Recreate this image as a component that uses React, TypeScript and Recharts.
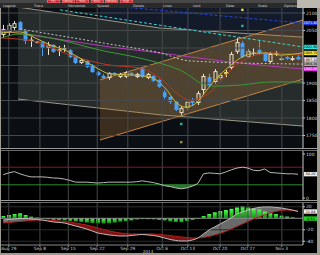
import React from "react";
import {
  ComposedChart,
  Line,
  Area,
  Bar,
  Scatter,
  XAxis,
  YAxis,
  ReferenceLine,
} from "recharts";

// --- Data ---

const OPEN = [2037, 2046, 2057, 2074, 2051, 2023, 2017, 2017, 2000, 2009, 1991, 1999, 1994, 1974, 1957, 1963, 1951, 1931, 1921, 1914, 1929, 1917, 1917, 1929, 1917, 1943, 1914, 1920, 1909, 1874, 1860, 1846, 1814, 1829, 1851, 1843, 1880, 1917, 1903, 1914, 1926, 1943, 1989, 2014, 1974, 1986, 1994, 1986, 1960, 1984, 1969, 1974, 1966, 1974];
const HIGH = [2066, 2071, 2077, 2077, 2054, 2031, 2020, 2020, 2017, 2011, 2006, 2009, 1997, 1977, 1969, 1966, 1954, 1934, 1926, 1931, 1931, 1929, 1934, 1931, 1929, 1946, 1929, 1923, 1911, 1880, 1863, 1849, 1834, 1851, 1857, 1877, 1926, 1926, 1940, 1929, 1937, 1989, 2029, 2020, 1997, 2000, 2023, 1989, 1989, 1991, 1980, 1977, 1977, 1980];
const LOW = [2029, 2034, 2051, 2049, 2011, 2003, 2014, 1977, 1980, 1986, 1977, 1989, 1971, 1954, 1954, 1943, 1929, 1920, 1911, 1909, 1923, 1914, 1914, 1920, 1914, 1914, 1911, 1903, 1886, 1854, 1840, 1820, 1809, 1823, 1834, 1837, 1866, 1889, 1897, 1909, 1917, 1937, 1983, 1971, 1971, 1977, 1980, 1960, 1957, 1977, 1963, 1966, 1963, 1966];
const CLOSE = [2054, 2066, 2071, 2051, 2020, 2024, 2018, 2000, 2009, 1989, 1996, 2000, 1974, 1957, 1966, 1946, 1931, 1923, 1914, 1929, 1924, 1926, 1931, 1923, 1926, 1917, 1926, 1906, 1889, 1860, 1846, 1823, 1829, 1846, 1843, 1871, 1920, 1894, 1934, 1923, 1931, 1983, 2017, 1974, 1991, 1987, 1986, 1963, 1983, 1986, 1970, 1969, 1971, 1967];

const RSI = [53, 57, 60, 55, 51, 48, 48, 48, 47, 45.5, 45, 43, 40, 36, 36, 36, 35, 34, 35, 36, 36, 36, 36, 36, 37, 39, 37, 35, 32, 28, 26, 23, 21, 23, 27, 33, 55, 57, 56, 55, 59, 64, 68, 70, 68, 63, 62, 66, 58, 57, 56, 55, 55, 54];

const MACD = [-3.0, -2.1, -1.2, -0.3, -0.3, -1.2, -2.1, -3.0, -4.7, -6.4, -7.3, -8.2, -10.8, -13.4, -16.0, -18.6, -22.1, -25.6, -27.3, -29.0, -29.9, -30.8, -30.8, -29.9, -29.0, -28.2, -29.0, -29.9, -31.7, -34.3, -36.9, -38.6, -39.5, -39.5, -37.8, -34.3, -27.3, -20.4, -15.1, -9.9, -4.7, 0.5, 7.5, 11.0, 14.4, 17.1, 18.8, 19.7, 19.7, 18.8, 17.9, 16.2, 14.4, 11.8];
const SIGNAL = [-8.2, -7.3, -6.4, -5.6, -4.7, -3.8, -3.0, -3.0, -3.0, -3.8, -4.7, -5.6, -6.4, -8.2, -9.9, -11.7, -14.3, -16.9, -19.5, -22.1, -23.8, -25.6, -26.4, -27.3, -27.3, -27.3, -27.3, -27.3, -28.2, -29.0, -29.9, -31.7, -32.5, -33.4, -34.3, -34.3, -33.4, -31.7, -29.0, -26.4, -23.0, -18.6, -14.3, -9.9, -5.6, -1.2, 2.3, 5.7, 9.2, 11.8, 13.6, 14.4, 13.6, 12.7];
const HIST = [4, 5.7, 7.5, 8.7, 5.7, 2.8, 1.2, 0.3, -1.5, -3, -3.5, -4, -4.7, -5.5, -6.4, -7.6, -8.2, -8.7, -9, -8.5, -7.6, -6, -5.2, -4, -2.3, -1.5, -1.8, -2.2, -3, -4, -5.5, -6.5, -7, -5, -3, -1, 4, 7.5, 10.4, 12.7, 14.4, 16.5, 19, 21.4, 19, 17, 15.5, 12, 9, 7.5, 4.5, 3, 1.5, -0.5];

// overlay lines: [bar index, price]
const YELLOW_MA: [number, number][] = [[-0.4, 2043], [3, 2046], [5.7, 2029], [8.4, 2009], [11.1, 1994], [13.8, 1971], [16.5, 1946], [19.2, 1926], [22.8, 1923], [26.4, 1917], [29.1, 1886], [31.2, 1843], [32.7, 1831], [34.5, 1840], [36.3, 1874], [38.1, 1909], [40.8, 1949], [42.6, 1971], [44.4, 1983], [47.1, 1986], [49.8, 1980], [53.9, 1986]];
const RED_MA: [number, number][] = [[-0.4, 2029], [6.1, 2017], [12, 1980], [19.2, 1951], [24.6, 1943], [28.2, 1914], [31.2, 1871], [33.6, 1851], [35.4, 1857], [37.2, 1874], [39.3, 1909], [41.7, 1949], [44.4, 1974], [48, 1986], [53.9, 1980]];
const GREEN_MA: [number, number][] = [[-0.4, 2029], [3, 2040], [10.2, 2023], [17.4, 1994], [24.6, 1971], [31.8, 1937], [37.2, 1891], [42.6, 1894], [48, 1903], [53.9, 1903]];
const MAGENTA_MA: [number, number][] = [[-0.4, 2049], [8.4, 2029], [19.2, 2003], [28.2, 1986], [40.8, 1960], [53.9, 1940]];
const WHITE_DASH: [number, number][] = [[3, 2054], [19.2, 2011], [28.2, 1986], [33.6, 1963], [53.9, 1954]];
const CYAN_DASH: [number, number][] = [[10.2, 2109], [37.2, 2043], [53.9, 2003]];
const BLUE_DASH: [number, number][] = [[17.4, 2123], [53.9, 2071]];

// channels: [bar index, low, high]
const GRAY_BAND: [number, number, number][] = [[2.66, 1854, 2117], [28.2, 1809, 2057], [53.9, 1777, 2031]];
const ORANGE_BAND: [number, number, number][] = [[17.4, 1737, 1909], [53.9, 1911, 2080]];
const UPPER_ZONE: [number, number, number][] = [[17.4, 2082, 2114.3], [28.2, 2057, 2114.3], [53.9, 2031, 2114.3]];

const TEAL_MARKS: [number, number][] = [[32, 1783], [43, 2063]];
const YELLOW_MARKS: [number, number][] = [[40, 1928], [43, 2109]];
const OLIVE_MARKS: [number, number][] = [[32, 1731]];

const PRICE_GRID = [1750, 1800, 1850, 1900, 1950, 2000, 2050, 2100];
const PRICE_LABELS = [1750, 1800, 1850, 1900, 2050, 2100]; // 1950 / 2000 sit under the value boxes
const PRICE_LAST = [2071.4, 2002.9, 1985.7, 1967.1, 1954.3, 1940.0];
const RSI_LAST = 54.2;
const MACD_LAST = [11.84, -0.52];

const DATE_TICKS = [1, 6.6, 11.7, 16.9, 22.4, 28.6, 33.2, 39, 44, 50.1];
const DATE_LABELS = ["Aug 29", "Sep 8", "Sep 15", "Sep 22", "Sep 29", "Oct 6", "Oct 13", "Oct 20", "Oct 27", "Nov 3"];

// --- Styles ---
const FONT = "'DejaVu Sans', sans-serif";
const X_DOMAIN: [number, number] = [-0.4, 53.9];
const GRID = "#45494b";
const PRICE_BOX = [
  { fill: "#2236d8", text: "#ffffff" },
  { fill: "#34e0e0", text: "#000000" },
  { fill: "#e8e23a", text: "#000000" },
  { fill: "#ececec", text: "#000000" },
  { fill: "#a8a8a8", text: "#000000" },
  { fill: "#e030e0", text: "#ffffff" },
];

const toPts = (arr: [number, number][]) => arr.map(([i, p]) => ({ i, p }));
const toBand = (arr: [number, number, number][]) => arr.map(([i, lo, hi]) => ({ i, v: [lo, hi] }));

const candles = OPEN.map((o, i) => ({ i, o, h: HIGH[i], l: LOW[i], c: CLOSE[i] }));
const rsiRows = RSI.map((r, i) => ({ i, r, low: Math.min(r, 30) }));
const macdRows = MACD.map((m, i) => {
  const s = SIGNAL[i];
  return { i, m, s, h: HIST[i], up: m >= s ? [s, m] : [s, s], dn: m < s ? [m, s] : [s, s] };
});

function Candle(props: any) {
  const { x, y, width, height, payload } = props;
  const { o, h, l, c } = payload;
  const span = h - l || 1;
  const py = (p: number) => y + ((h - p) / span) * height;
  const cx = Math.round(x + width / 2) + 0.5;
  const top = py(Math.max(o, c));
  const bh = Math.max(py(Math.min(o, c)) - top, 1.2);
  const up = c >= o;
  const col = up ? "#ece4cc" : "#4aa0f6";
  const bx = cx - 2;
  return (
    <g>
      <line x1={cx} x2={cx} y1={y} y2={top} stroke={col} strokeWidth={1} />
      <line x1={cx} x2={cx} y1={top + bh} y2={y + height} stroke={col} strokeWidth={1} />
      {up ? (
        <rect x={bx + 0.5} y={top + 0.5} width={3} height={Math.max(bh - 1, 0.4)} fill="none" stroke={col} strokeWidth={1} />
      ) : (
        <rect x={bx} y={top} width={4} height={bh} fill={col} />
      )}
    </g>
  );
}

const YTick = (props: any) => (
  <text x={props.x} y={props.y + 1.6} fontSize={4.5} fill="#d8d8d8" fontFamily={FONT}>
    {props.payload.value}
  </text>
);

const DateTick = (props: any) => {
  const k = DATE_TICKS.indexOf(props.payload.value);
  return (
    <text x={props.x} y={props.y + 2.6} fontSize={4.3} textAnchor="middle" fill="#c8c8c8" fontFamily={FONT}>
      {DATE_LABELS[k]}
    </text>
  );
};

const valueBox = (value: number, fill: string, text: string) => (props: any) => {
  const vb = props.viewBox;
  const x = vb.x + vb.width + 1;
  return (
    <g>
      <rect x={x} y={vb.y - 2.2} width={13} height={4.4} fill={fill} />
      <text x={x + 6.5} y={vb.y + 1.2} fontSize={3.4} textAnchor="middle" fill={text} fontFamily={FONT}>
        {value.toFixed(2)}
      </text>
    </g>
  );
};

const dot = (color: string) => (props: any) => (
  <rect x={props.cx - 1.2} y={props.cy - 1.2} width={2.4} height={2.4} fill={color} />
);

const vGrid = DATE_TICKS.map((t) => <ReferenceLine key={"v" + t} x={t} stroke={GRID} strokeWidth={1} />);

const TOOLS = [
  ["Legend", 3], ["Trace", 34], ["Horizontal", 68], ["Spread", 97], ["Delete", 133],
  ["Lines", 163], ["Lock", 193], ["Data", 226], ["Scale", 258], ["Options", 284],
] as const;
const MENU = ["File", "Library", "Tools", "Docs", "Window", "Help"];

export default function App() {
  return (
    <div style={{ position: "absolute", left: 0, top: 0, width: 320, height: 255, background: "#9d9a92", overflow: "hidden", fontFamily: FONT }}>
      {/* toolbar */}
      <div style={{ position: "absolute", left: 0, top: 0, width: 297, height: 3, background: "#474747" }} />
      {MENU.map((m, k) => (
        <div key={m} style={{ position: "absolute", left: 47 + k * 14.5, top: 0, width: 13, height: 3, background: "#c4202a", boxShadow: "inset 0 0 0 0.5px #f08080", color: "#fff", fontSize: 2.6, lineHeight: "3px", textAlign: "center" }}>{m}</div>
      ))}
      <div style={{ position: "absolute", left: 0, top: 3, width: 297, height: 5, background: "#2a2a2a" }}>
        {TOOLS.map(([t, x]) => (
          <span key={t} style={{ position: "absolute", left: x, top: 0.5, fontSize: 3.4, lineHeight: "4px", color: "#d8d8d8", whiteSpace: "nowrap" }}>{t}</span>
        ))}
      </div>
      <div style={{ position: "absolute", left: 297, top: 0, width: 23, height: 8, background: "#bbb8b0" }} />

      {/* body */}
      <div style={{ position: "absolute", left: 1, top: 8, width: 316, height: 245, background: "#000" }} />
      <div style={{ position: "absolute", left: 1, top: 8, width: 302, height: 140, background: "#0b0f13" }} />

      {/* price panel */}
      <div style={{ position: "absolute", left: 1, top: 8 }}>
        <ComposedChart width={316} height={140} data={candles} margin={{ top: 0, right: 0, bottom: 0, left: 0 }}>
          <XAxis dataKey="i" type="number" domain={X_DOMAIN} allowDataOverflow hide />
          <YAxis orientation="right" width={14} domain={[1714.3, 2114.3]} allowDataOverflow ticks={PRICE_LABELS}
            tick={YTick} tickSize={2} tickMargin={1} stroke="#c8c8c8" interval={0} />
          <Area data={toBand(UPPER_ZONE)} dataKey="v" type="linear" stroke="none" fill="#1c2640" fillOpacity={0.55} isAnimationActive={false} />
          <Area data={toBand(GRAY_BAND)} dataKey="v" type="linear" stroke="#9e9a84" strokeWidth={1} fill="#8a9088" fillOpacity={0.22} isAnimationActive={false} />
          <Area data={toBand(ORANGE_BAND)} dataKey="v" type="linear" stroke="#c48444" strokeWidth={1} fill="#b07838" fillOpacity={0.3} isAnimationActive={false} />
          {PRICE_GRID.map((t) => <ReferenceLine key={"h" + t} y={t} stroke={GRID} strokeWidth={1} />)}
          {vGrid}
          <Line data={toPts(BLUE_DASH)} dataKey="p" type="linear" stroke="#2a44d8" strokeDasharray="3 2" dot={false} isAnimationActive={false} />
          <Line data={toPts(CYAN_DASH)} dataKey="p" type="linear" stroke="#40d4d4" strokeDasharray="3 2" dot={false} isAnimationActive={false} />
          <Line data={toPts(MAGENTA_MA)} dataKey="p" type="monotone" stroke="#b63cb6" dot={false} isAnimationActive={false} />
          <Line data={toPts(WHITE_DASH)} dataKey="p" type="monotone" stroke="#c4c4c4" strokeDasharray="2 2" dot={false} isAnimationActive={false} />
          <Line data={toPts(GREEN_MA)} dataKey="p" type="monotone" stroke="#3c9a34" dot={false} isAnimationActive={false} />
          <Line data={toPts(RED_MA)} dataKey="p" type="monotone" stroke="#b83a20" dot={false} isAnimationActive={false} />
          <Line data={toPts(YELLOW_MA)} dataKey="p" type="monotone" stroke="#cbb83a" dot={false} isAnimationActive={false} />
          <Bar dataKey={(d: any) => [d.l, d.h]} barSize={4} shape={Candle} isAnimationActive={false} />
          <Scatter data={toPts(TEAL_MARKS)} dataKey="p" shape={dot("#30b0a0")} isAnimationActive={false} />
          <Scatter data={toPts(YELLOW_MARKS)} dataKey="p" shape={dot("#e8e040")} isAnimationActive={false} />
          <Scatter data={toPts(OLIVE_MARKS)} dataKey="p" shape={dot("#9a9040")} isAnimationActive={false} />
          {PRICE_LAST.map((v, k) => (
            <ReferenceLine key={"b" + k} y={v} stroke="none" label={valueBox(v, PRICE_BOX[k].fill, PRICE_BOX[k].text)} />
          ))}
        </ComposedChart>
      </div>

      {/* separators */}
      <div style={{ position: "absolute", left: 1, top: 148, width: 316, height: 1, background: "#9a9a9a" }} />
      <div style={{ position: "absolute", left: 1, top: 150, width: 316, height: 1, background: "#6a6a6a" }} />
      <div style={{ position: "absolute", left: 1, top: 200, width: 316, height: 1, background: "#9a9a9a" }} />
      <div style={{ position: "absolute", left: 1, top: 202, width: 316, height: 1, background: "#6a6a6a" }} />

      {/* RSI panel */}
      <div style={{ position: "absolute", left: 1, top: 151 }}>
        <ComposedChart width={316} height={49} data={rsiRows} margin={{ top: 0, right: 0, bottom: 0, left: 0 }}>
          <XAxis dataKey="i" type="number" domain={X_DOMAIN} allowDataOverflow hide />
          <YAxis orientation="right" width={14} domain={[-4.5, 106.8]} allowDataOverflow ticks={[0, 100]}
            tick={YTick} tickSize={2} tickMargin={1} stroke="#c8c8c8" interval={0} />
          {vGrid}
          <ReferenceLine y={70} stroke="#8a1a1a" strokeWidth={1} />
          <ReferenceLine y={30} stroke="#2e8a2e" strokeWidth={1} />
          <Area dataKey="low" baseValue={30} type="linear" stroke="none" fill="#2f8a2f" fillOpacity={0.85} isAnimationActive={false} />
          <Line dataKey="r" type="linear" stroke="#b8b8b8" dot={false} isAnimationActive={false} />
          <ReferenceLine y={RSI_LAST} stroke="none" label={valueBox(RSI_LAST, "#ececec", "#000")} />
        </ComposedChart>
      </div>

      {/* MACD panel */}
      <div style={{ position: "absolute", left: 1, top: 203 }}>
        <ComposedChart width={316} height={50} data={macdRows} margin={{ top: 0, right: 0, bottom: 0, left: 0 }}>
          <defs>
            <linearGradient id="histGrad" x1="0" y1="0" x2="0" y2="1">
              <stop offset="0%" stopColor="#4cff4c" />
              <stop offset="100%" stopColor="#108a10" />
            </linearGradient>
          </defs>
          <XAxis dataKey="i" type="number" domain={X_DOMAIN} allowDataOverflow ticks={DATE_TICKS} interval={0}
            height={8} tick={DateTick} tickSize={2} tickMargin={0} stroke="#8a8a8a" />
          <YAxis orientation="right" width={14} domain={[-46.5, 26.6]} allowDataOverflow ticks={[-40, -20, 20]}
            tick={YTick} tickSize={2} tickMargin={1} stroke="#c8c8c8" interval={0} />
          {vGrid}
          {[-40, -20, 20].map((t) => <ReferenceLine key={"m" + t} y={t} stroke="#2e2e2e" />)}
          <ReferenceLine y={0} stroke="#8a8a8a" />
          <Area dataKey="dn" type="monotone" stroke="none" fill="#8c1414" fillOpacity={0.9} isAnimationActive={false} />
          <Area dataKey="up" type="monotone" stroke="none" fill="#8e8e8e" fillOpacity={0.75} isAnimationActive={false} />
          <Line dataKey="s" type="monotone" stroke="#b41c1c" dot={false} isAnimationActive={false} />
          <Line dataKey="m" type="monotone" stroke="#bdbdbd" dot={false} isAnimationActive={false} />
          <Bar dataKey="h" barSize={4} fill="url(#histGrad)" isAnimationActive={false} />
          <ReferenceLine y={MACD_LAST[0]} stroke="none" label={valueBox(MACD_LAST[0], "#ececec", "#000")} />
          <ReferenceLine y={MACD_LAST[1]} stroke="none" label={valueBox(MACD_LAST[1], "#22d022", "#000")} />
        </ComposedChart>
      </div>
      <div style={{ position: "absolute", left: 143, top: 249.5, fontSize: 4, lineHeight: "4px", color: "#c8c8c8" }}>2014</div>
    </div>
  );
}
